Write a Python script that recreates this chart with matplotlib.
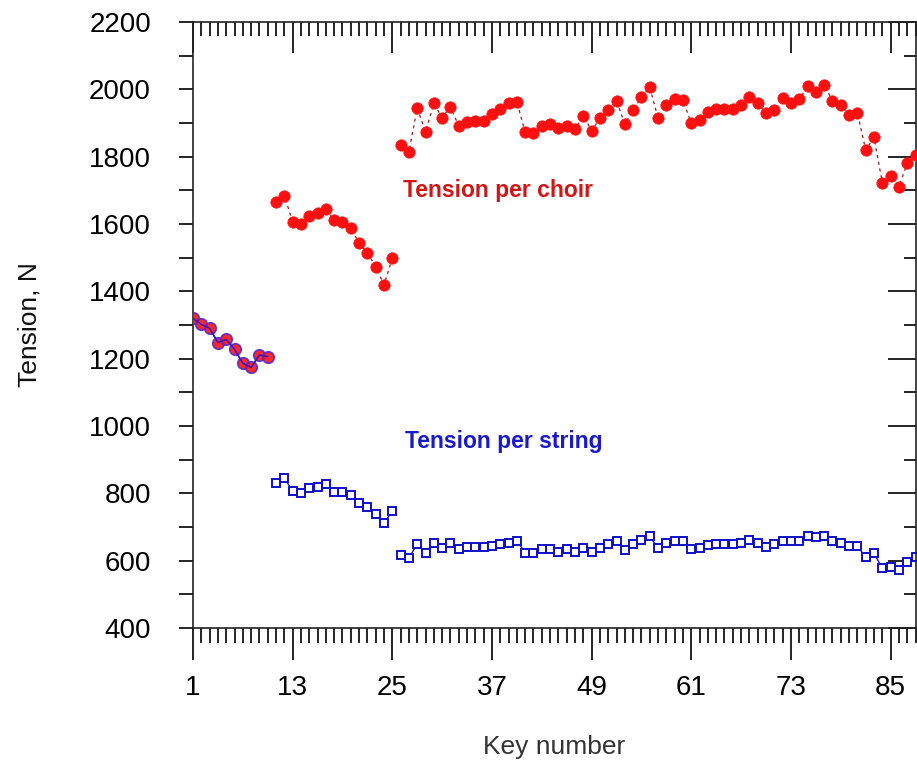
"""
Piano string tension per choir and per string, keys 1-88
"""

import matplotlib.pyplot as plt
from matplotlib.ticker import MultipleLocator, FixedLocator

plt.rcParams["font.family"] = ["Liberation Sans", "DejaVu Sans"]

# keys where the number of strings per choir changes: 1 / 2 / 3 strings
segments = [(1, 10), (11, 25), (26, 88)]

keys = list(range(1, 89))

# tension per choir, N
choir = [
    1320, 1302, 1290, 1248, 1257, 1228, 1186, 1174, 1211, 1206,
    1666, 1683, 1607, 1600, 1624, 1633, 1644, 1612, 1607, 1589,
    1543, 1515, 1473, 1419, 1498,
    1835, 1815, 1944, 1874, 1958, 1916, 1948, 1891, 1904, 1907,
    1907, 1926, 1943, 1958, 1963, 1872, 1871, 1891, 1897, 1884,
    1892, 1881, 1922, 1877, 1914, 1938, 1966, 1897, 1938, 1976,
    2006, 1914, 1953, 1970, 1968, 1899, 1909, 1934, 1942, 1943,
    1943, 1953, 1978, 1958, 1929, 1938, 1973, 1960, 1970, 2010,
    1993, 2013, 1966, 1953, 1924, 1930, 1820, 1857, 1723, 1742,
    1711, 1780, 1805,
]

# tension per string, N
string = [
    1320, 1302, 1290, 1248, 1257, 1228, 1186, 1174, 1211, 1206,
    832, 845, 807, 800, 815, 820, 827, 805, 805, 795,
    772, 758, 739, 711, 748,
    617, 607, 650, 624, 653, 637, 653, 634, 640, 640,
    640, 644, 650, 653, 659, 624, 624, 634, 636, 627,
    634, 627, 637, 627, 637, 650, 659, 632, 650, 661,
    673, 637, 652, 659, 659, 634, 637, 646, 650, 650,
    650, 653, 661, 653, 642, 650, 659, 659, 659, 673,
    669, 673, 659, 652, 644, 644, 610, 622, 577, 580,
    572, 597, 610,
]

W, H = 917, 765
fig = plt.figure(figsize=(W / 100, H / 100), dpi=100)
ax = fig.add_axes([193 / W, 137 / H, (915.5 - 193) / W, 606 / H])


def px(n):
    return n * 72 / 100


for lo, hi in segments:
    k = keys[lo - 1:hi]
    c = choir[lo - 1:hi]
    s = string[lo - 1:hi]
    single = lo == 1
    ax.plot(k, s, color="#1010c8", lw=1.0, zorder=2,
            marker=None if single else "s", ms=5.5, mfc="white",
            mec="#1010c8", mew=1.4)
    ax.plot(k, c, color="#a01818", lw=0.9, ls=(0, (2.5, 3)), zorder=3,
            marker="o", ms=8.2, mfc="#ff1010",
            mec="#5a28c8" if single else "#ff1010", mew=1.3 if single else 0.5,
            alpha=0.9 if single else 1)
    if single:
        ax.plot(k, s, color="#2a1ad0", lw=1.0, zorder=4)

ax.text(26.3, 1700, "Tension per choir", color="#d01515", fontsize=16.5,
        fontweight="bold", va="center", ha="left")
ax.text(26.5, 955, "Tension per string", color="#1a1acc", fontsize=16.5,
        fontweight="bold", va="center", ha="left")

ax.set_xlim(1, 88)
ax.set_ylim(400, 2200)

ax.xaxis.set_major_locator(FixedLocator([1, 13, 25, 37, 49, 61, 73, 85]))
ax.xaxis.set_minor_locator(MultipleLocator(1))
ax.yaxis.set_major_locator(MultipleLocator(200))
ax.yaxis.set_minor_locator(MultipleLocator(100))

ax.tick_params(axis="x", which="major", bottom=True, top=True,
               direction="out", length=px(32), width=1.2, labelsize=20,
               pad=px(15))
ax.tick_params(axis="x", which="minor", bottom=True, top=True,
               direction="out", length=px(15), width=1.2)
# top ticks hang inward
for t in ax.xaxis.get_major_ticks():
    t.tick2line.set_markersize(px(31))
    t.tick2line.set_marker(3)
for t in ax.xaxis.get_minor_ticks():
    t.tick2line.set_markersize(px(14))
    t.tick2line.set_marker(3)

ax.tick_params(axis="y", which="major", left=True, right=True,
               direction="out", length=px(14), width=1.2, labelsize=20,
               pad=px(28))
ax.tick_params(axis="y", which="minor", left=True, right=True,
               direction="out", length=px(14), width=1.2)
for t in ax.yaxis.get_major_ticks():
    t.tick2line.set_markersize(px(28))
    t.tick2line.set_marker(0)
for t in ax.yaxis.get_minor_ticks():
    t.tick2line.set_markersize(px(12))
    t.tick2line.set_marker(0)

for sp in ax.spines.values():
    sp.set_linewidth(1.2)
    sp.set_color("#222222")

ax.set_xlabel("Key number", fontsize=19, color="#333333", labelpad=px(34))
ax.set_ylabel("Tension, N", fontsize=19, color="#111111", labelpad=px(48))

fig.savefig("out.png", dpi=100)
